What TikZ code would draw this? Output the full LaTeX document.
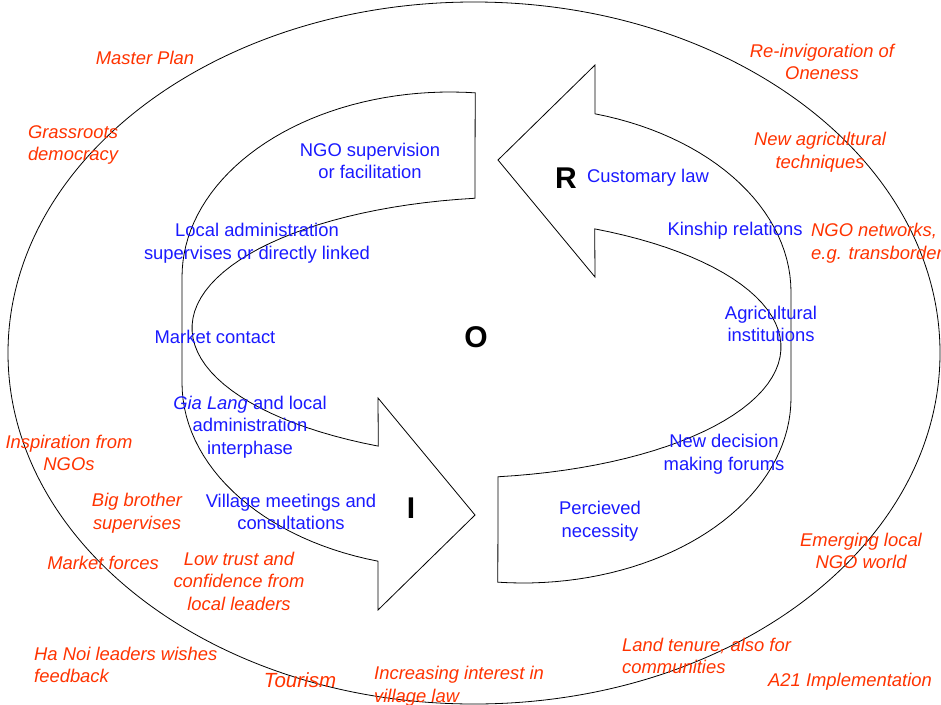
\documentclass[tikz,border=0pt]{standalone}
\usepackage{fontspec}
\setmainfont{Liberation Sans}
\usepackage{xcolor}
\definecolor{outerred}{RGB}{255,51,0}
\definecolor{innerblue}{RGB}{26,26,255}
\tikzset{
    influence/.style={text=outerred, font=\itshape\fontsize{18.4}{22.5}\selectfont, align=center, inner sep=0pt},
    factor/.style={text=innerblue, font=\fontsize{18.4}{22.5}\selectfont, align=center, inner sep=0pt},
    phase/.style={font=\bfseries\fontsize{30}{36}\selectfont, inner sep=0pt},
    band/.style={draw=black, line width=0.8pt}
}

\begin{document}
\begin{tikzpicture}[x=1pt,y=-1pt]
        \useasboundingbox (0,0) rectangle (941,704);

        \draw[line width=0.8pt] (474,353) ellipse (466pt and 351pt);

        \foreach \r in {0,180}
            \draw[band, rotate around={\r:(486.5,337.5)}]
                plot[domain=275.4:180, samples=40] ({450+268*cos(\x)},{277+185*sin(\x)})
                -- plot[domain=180:105.6, samples=30] ({450+268*cos(\x)},{383+185*sin(\x)})
                -- (378,610) -- (475,515) -- (378,398)
                -- plot[domain=115.6:262.1, samples=50] ({520+328*cos(\x)},{328+131*sin(\x)})
                -- cycle;

        \node[phase] (R) at (566,178) {R};
        \node[phase] (O) at (476,337) {O};
        \node[phase] (I) at (411,508) {I};

        \node[factor] (ngo) at (370,161) {NGO supervision\\or facilitation};
        \node[factor] (la) at (257,243) {Local administration\\supervises or directly linked};
        \node[factor] (mc) at (215,337) {Market contact};
        \node[factor] (gl) at (250,427) {\textit{Gia Lang} and local\\administration\\interphase};
        \node[factor] (vm) at (291,512) {Village meetings and\\consultations};
        \node[factor] (cl) at (648,178) {Customary law};
        \node[factor] (kr) at (735,231) {Kinship relations};
        \node[factor] (ai) at (771,324) {Agricultural\\institutions};
        \node[factor] (nd) at (724,454) {New decision\\making forums};
        \node[factor] (pn) at (600,521) {Percieved\\necessity};

        \node[influence] (mp) at (145,58) {Master Plan};
        \node[influence] (gd) at (73,145) {Grassroots\\democracy};
        \node[influence] (ro) at (822,62) {Re-invigoration of\\Oneness};
        \node[influence] (nat) at (820,152) {New agricultural\\techniques};
        \node[influence, anchor=west, align=left] (nn) at (811,243) {NGO networks,\\e.g. transborder};
        \node[influence] (ins) at (69,453) {Inspiration from\\NGOs};
        \node[influence] (bb) at (137,513) {Big brother\\supervises};
        \node[influence] (mf) at (103,563) {Market forces};
        \node[influence] (lt) at (239,581) {Low trust and\\confidence from\\local leaders};
        \node[influence, anchor=west, align=left] (hn) at (34,665) {Ha Noi leaders wishes\\feedback};
        \node[influence, font=\itshape\fontsize{20.5}{24}\selectfont] (to) at (300,680) {Tourism};
        \node[influence, anchor=west, align=left] (ii) at (374,686) {Increasing interest in\\village law};
        \node[influence, anchor=west, align=left] (lte) at (622,656) {Land tenure, also for\\communities};
        \node[influence] (em) at (861,551) {Emerging local\\NGO world};
        \node[influence] (a21) at (850,682) {A21 Implementation};
\end{tikzpicture}
\end{document}
